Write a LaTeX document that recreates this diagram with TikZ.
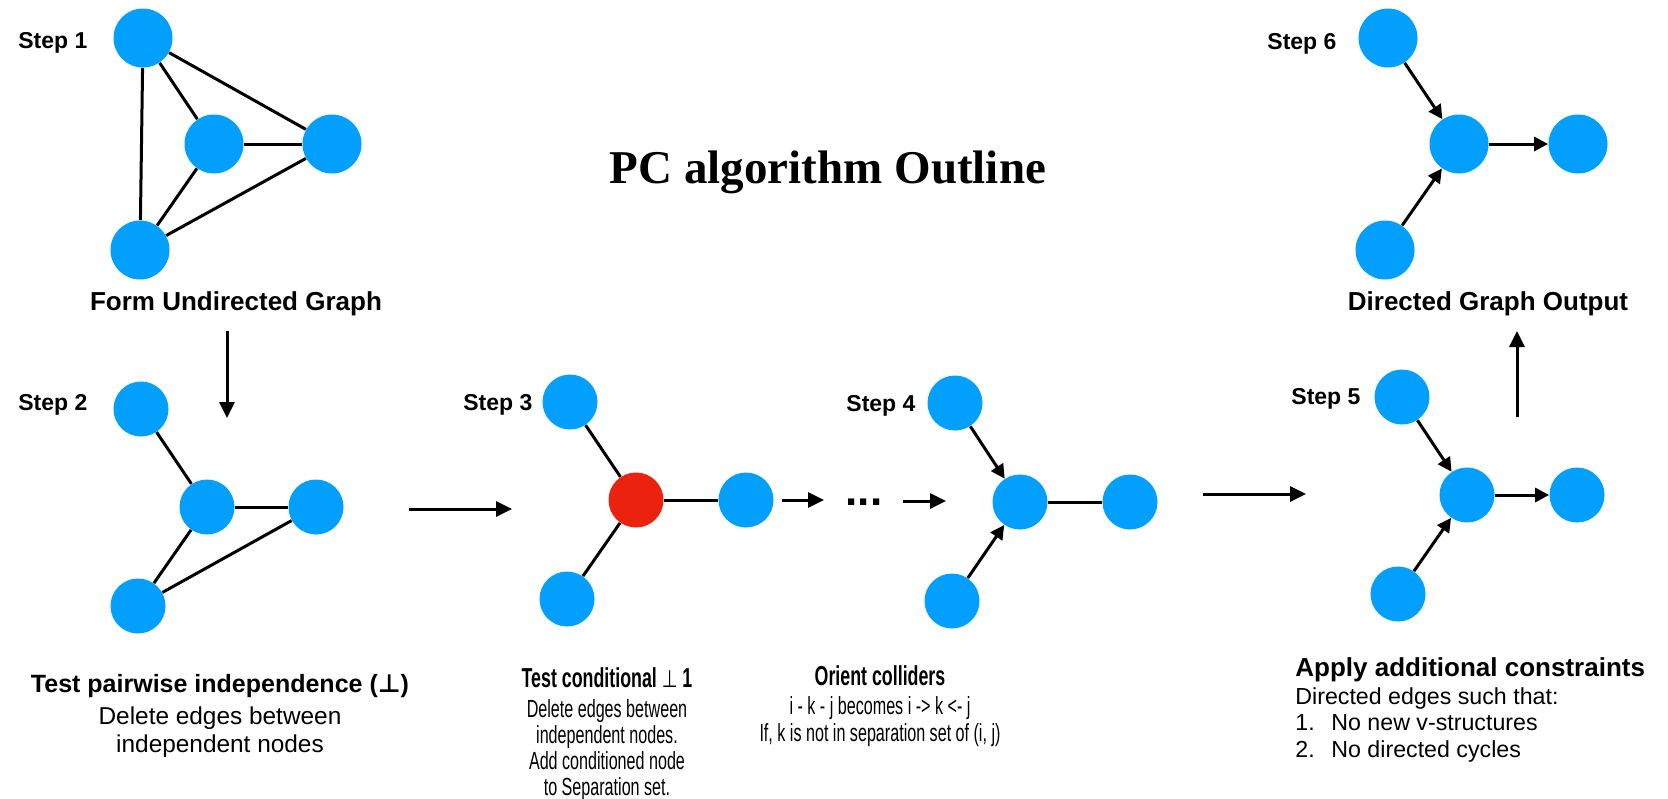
\documentclass[tikz,border=0pt]{standalone}
\usepackage{fontspec}
\setmainfont{Liberation Sans}
\newfontfamily\titlefont{Liberation Serif}
\newfontfamily\narrowsf[FakeStretch=0.65]{Liberation Sans}
\newfontfamily\symfont{DejaVu Sans}
\newfontfamily\narrowsym[FakeStretch=0.75]{DejaVu Sans}
\usetikzlibrary{arrows.meta}
\definecolor{vblue}{RGB}{2,160,252}
\definecolor{vred}{RGB}{234,34,14}

\begin{document}
\begin{tikzpicture}[x=0.5pt,y=-0.5pt,
  vtx/.style={circle,fill=vblue,inner sep=0,minimum size=27.5pt},
  bigvtx/.style={vtx,minimum size=29.5pt},
  link/.style={line width=1.5pt},
  dlink/.style={link,-{Triangle[width=7pt,length=7pt]}},
  flow/.style={line width=1.5pt,-{Triangle[width=7.5pt,length=8pt]}},
  steplab/.style={anchor=base west,inner sep=0,font=\fontsize{11.5}{14}\selectfont\bfseries},
  head/.style={anchor=base,inner sep=0,font=\fontsize{12.5}{15}\selectfont\bfseries},
  body/.style={anchor=base,inner sep=0,font=\fontsize{12.2}{14}\selectfont},
  nhead/.style={anchor=base,inner sep=0,font=\narrowsf\fontsize{13.7}{16}\selectfont\bfseries},
  nbody/.style={anchor=base,inner sep=0,font=\narrowsf\fontsize{12.4}{14}\selectfont},
  lhead/.style={anchor=base west,inner sep=0,font=\fontsize{13}{15}\selectfont\bfseries},
  lbody/.style={anchor=base west,inner sep=0,font=\fontsize{11.6}{14}\selectfont},
]
\fill[white] (0,0) rectangle (1668,798);
\useasboundingbox (0,0) rectangle (1668,798);

% title
\node[anchor=base,inner sep=0,font=\titlefont\bfseries\fontsize{23.5}{28}\selectfont] (title) at (828,183) {PC algorithm Outline};

% ---- Step 1: complete undirected graph
\node[steplab] (s1) at (18,48) {Step 1};
\node[bigvtx] (a1) at (143,38) {};
\node[bigvtx] (b1) at (214,144) {};
\node[bigvtx] (c1) at (332,144) {};
\node[bigvtx] (d1) at (140,250) {};
\draw[link] (a1) -- (b1);
\draw[link] (a1) -- (c1);
\draw[link] (a1) -- (d1);
\draw[link] (b1) -- (c1);
\draw[link] (b1) -- (d1);
\draw[link] (c1) -- (d1);
\node[head,font=\fontsize{13}{15}\selectfont\bfseries] (t1) at (236,310) {Form Undirected Graph};

% ---- Step 2: pairwise independence
\node[steplab] (s2) at (18,410) {Step 2};
\node[vtx] (a2) at (141,409) {};
\node[vtx] (b2) at (207,507) {};
\node[vtx] (c2) at (316,507) {};
\node[vtx] (d2) at (138,606) {};
\draw[link] (a2) -- (b2);
\draw[link] (b2) -- (c2);
\draw[link] (b2) -- (d2);
\draw[link] (c2) -- (d2);
\node[head] (t2) at (220,692) {Test pairwise independence ({\symfont ⊥})};
\node[body] (t2a) at (220,724) {Delete edges between};
\node[body] (t2b) at (220,752) {independent nodes};

% ---- Step 3: conditional independence
\node[steplab] (s3) at (463,410) {Step 3};
\node[vtx] (a3) at (570,402) {};
\node[vtx,fill=vred] (b3) at (636,500) {};
\node[vtx] (c3) at (746,500) {};
\node[vtx] (d3) at (567,599) {};
\draw[link] (a3) -- (b3);
\draw[link] (b3) -- (c3);
\draw[link] (b3) -- (d3);
\node[nhead] (t3) at (607,687) {Test conditional {\narrowsym\mdseries\fontsize{12}{16}\selectfont ⊥} 1};
\node[nbody] (t3a) at (607,717) {Delete edges between};
\node[nbody] (t3b) at (607,743) {independent nodes.};
\node[nbody] (t3c) at (607,769) {Add conditioned node};
\node[nbody] (t3d) at (607,795) {to Separation set.};

% ---- Step 4: colliders
\node[steplab] (s4) at (846,411) {Step 4};
\node[vtx] (a4) at (955,403) {};
\node[vtx] (b4) at (1020,502) {};
\node[vtx] (c4) at (1130,502) {};
\node[vtx] (d4) at (952,601) {};
\draw[dlink] (a4) -- (b4);
\draw[dlink] (d4) -- (b4);
\draw[link] (b4) -- (c4);
\node[nhead] (t4) at (880,685) {Orient colliders};
\node[nbody] (t4a) at (880,714) {i - k - j becomes i -> k <- j};
\node[nbody] (t4b) at (880,741) {If, k is not in separation set of (i, j)};

% ---- Step 5: further orientation
\node[steplab] (s5) at (1291,404) {Step 5};
\node[vtx] (a5) at (1402,397) {};
\node[vtx] (b5) at (1467,495) {};
\node[vtx] (c5) at (1577,495) {};
\node[vtx] (d5) at (1398,594) {};
\draw[dlink] (a5) -- (b5);
\draw[dlink] (d5) -- (b5);
\draw[dlink] (b5) -- (c5);
\node[lhead] (t5) at (1295,676) {Apply additional constraints};
\node[lbody] (t5a) at (1295,704) {Directed edges such that:};
\node[lbody] (t5n1) at (1295,730) {1.};
\node[lbody] (t5b) at (1331,730) {No new v-structures};
\node[lbody] (t5n2) at (1295,757) {2.};
\node[lbody] (t5c) at (1331,757) {No directed cycles};

% ---- Step 6: output
\node[steplab] (s6) at (1267,49) {Step 6};
\node[bigvtx] (a6) at (1388,38) {};
\node[bigvtx] (b6) at (1459,144) {};
\node[bigvtx] (c6) at (1578,144) {};
\node[bigvtx] (d6) at (1385,250) {};
\draw[dlink] (a6) -- (b6);
\draw[dlink] (d6) -- (b6);
\draw[dlink] (b6) -- (c6);
\node[head,font=\fontsize{13}{15}\selectfont\bfseries] (t6) at (1488,310) {Directed Graph Output};

% ---- flow between the steps
\coordinate (f1s) at (227,331);
\coordinate (f1e) at (227,418);
\coordinate (f2s) at (409,509);
\coordinate (f2e) at (512,509);
\coordinate (f3s) at (782,500);
\coordinate (f3e) at (824,500);
\node[anchor=base,inner sep=0,font=\fontsize{22}{24}\selectfont\bfseries] (dots) at (864,505) {...};
\coordinate (f4s) at (903,501);
\coordinate (f4e) at (946,501);
\coordinate (f5s) at (1203,494);
\coordinate (f5e) at (1306,494);
\coordinate (f6s) at (1517,417);
\coordinate (f6e) at (1517,331);
\draw[flow] (f1s) -- (f1e);
\draw[flow] (f2s) -- (f2e);
\draw[flow] (f3s) -- (f3e);
\draw[flow] (f4s) -- (f4e);
\draw[flow] (f5s) -- (f5e);
\draw[flow] (f6s) -- (f6e);
\end{tikzpicture}
\end{document}
